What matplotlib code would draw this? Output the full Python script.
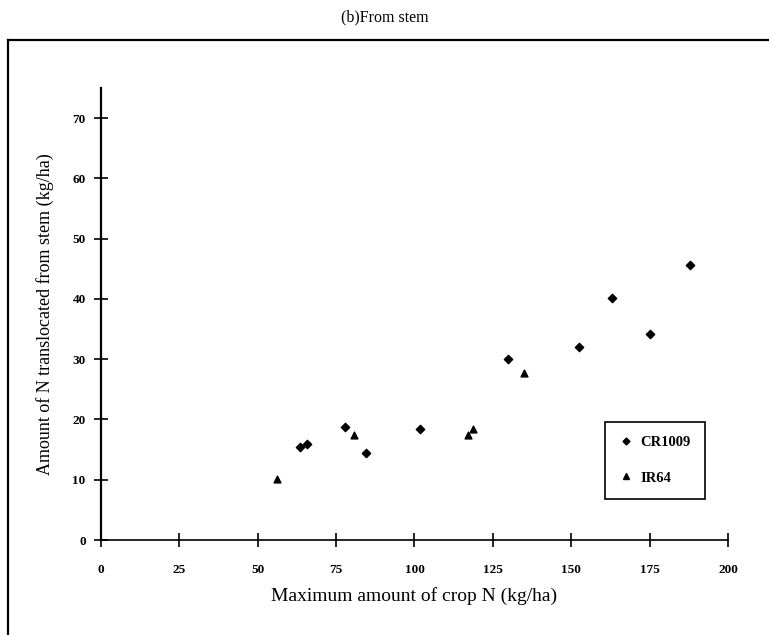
import matplotlib.pyplot as plt
from matplotlib.lines import Line2D

plt.rcParams['font.family'] = ['Liberation Serif', 'DejaVu Serif']

# ---------------------------
#   N translocated from stem
# ---------------------------
cr1009_x = [63.6, 65.6, 77.7, 84.6, 101.7, 129.9, 152.4, 163.0, 175.1, 187.9]
cr1009_y = [15.4, 15.9, 18.8, 14.4, 18.4, 30.1, 32.1, 40.1, 34.1, 45.7]

ir64_x = [56.1, 80.7, 117.1, 118.7, 134.9]
ir64_y = [10.1, 17.4, 17.4, 18.5, 27.7]

x_ticks = [0, 25, 50, 75, 100, 125, 150, 175, 200]
y_ticks = [0, 10, 20, 30, 40, 50, 60, 70]

fig = plt.figure(figsize=(7.69, 6.35), dpi=100)
ax = fig.add_axes([0.1313, 0.1496, 0.8154, 0.7118])

ax.scatter(cr1009_x, cr1009_y, marker='D', s=18, color='black', label='CR1009')
ax.scatter(ir64_x, ir64_y, marker='^', s=24, color='black', label='IR64')

ax.set_xlim(0, 200)
ax.set_ylim(0, 75)
ax.set_xticks(x_ticks)
ax.set_yticks(y_ticks)
for lab in ax.get_xticklabels() + ax.get_yticklabels():
    lab.set_fontweight('bold')
    lab.set_fontsize(9.5)
ax.tick_params(direction='inout', length=10, width=1.2)
ax.tick_params(axis='y', pad=6)
ax.tick_params(axis='x', pad=12)

for side in ['top', 'right']:
    ax.spines[side].set_visible(False)
ax.spines['left'].set_linewidth(1.6)
ax.spines['bottom'].set_linewidth(1.2)

ax.set_xlabel("Maximum amount of crop N (kg/ha)", fontsize=14, labelpad=8)
ax.set_ylabel("Amount of N translocated from stem (kg/ha)", fontsize=13, labelpad=13)

handles = [
    Line2D([], [], marker='D', markersize=3.5, color='black', linestyle='None'),
    Line2D([], [], marker='^', markersize=4.5, color='black', linestyle='None'),
]
leg = fig.legend(handles, ['CR1009', 'IR64'], loc='upper left',
                 bbox_to_anchor=(0.787, 0.336), fancybox=False, framealpha=1,
                 edgecolor='black', labelspacing=1.5, borderpad=1.0,
                 handlelength=0.8, handletextpad=0.6, borderaxespad=0,
                 prop={'weight': 'bold', 'size': 10.5})
leg.get_frame().set_linewidth(1.2)
leg.set_zorder(5)

fig.text(0.5, 1 - 17 / 635, "(b)From stem", ha='center', va='center', fontsize=11.5)

# outer frame: top and left edges
fig.add_artist(Line2D([8 / 769, 1], [1 - 40 / 635, 1 - 40 / 635],
                      transform=fig.transFigure, color='black', linewidth=1.6))
fig.add_artist(Line2D([8 / 769, 8 / 769], [0, 1 - 40 / 635],
                      transform=fig.transFigure, color='black', linewidth=1.6))

plt.savefig("out.png", dpi=100)
plt.close()
